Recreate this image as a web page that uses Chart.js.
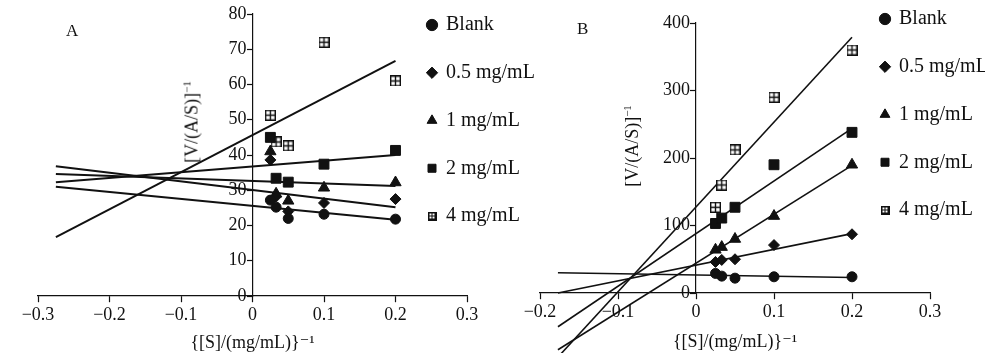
<!DOCTYPE html>
<html>
<head>
<meta charset="utf-8" />
<title>Lineweaver-Burk</title>
<script src="https://cdn.jsdelivr.net/npm/chart.js"></script>
<style>
  body { margin: 0; background: #fff; }
  #wrap {
    position: relative;
    width: 985px;
    height: 353px;
    overflow: hidden;
    font-family: "Liberation Serif", "DejaVu Serif", serif;
    color: #111;
  }
  canvas { position: absolute; top: 0; }
  #ca { left: 0; }
  #cb { left: 480px; }
  .tag { position: absolute; font-size: 17px; line-height: 1; }
  .ytitle {
    position: absolute;
    font-size: 18px;
    line-height: 1;
    white-space: nowrap;
    transform: translate(-50%, -50%) rotate(-90deg);
  }
  .ytitle sup { font-size: 11px; }
</style>
</head>
<body>
<div id="wrap">
  <canvas id="ca" width="560" height="353"></canvas>
  <canvas id="cb" width="505" height="353"></canvas>
  <div class="tag" style="left:66px;top:22px">A</div>
  <div class="tag" style="left:577px;top:20px">B</div>
  <div class="ytitle" style="left:191px;top:122px">[V/(A/S)]<sup>−1</sup></div>
  <div class="ytitle" style="left:631px;top:146px">[V/(A/S)]<sup>−1</sup></div>
</div>

<script>
// substrate 1/[S] values shared by both panels
const xValues = [0.025, 0.033, 0.05, 0.1, 0.2];
const seriesNames = ["Blank", "0.5 mg/mL", "1 mg/mL", "2 mg/mL", "4 mg/mL"];

// panel A, measured points
const aBlank = [27.2, 25.2, 22.0, 23.2, 21.8];
const aHalf = [38.6, 28.2, 24.0, 26.4, 27.5];
const aOne = [41.0, 29.0, 27.0, 30.7, 32.2];
const aTwo = [45.0, 33.4, 32.3, 37.4, 41.3];
const aFour = [51.3, 43.7, 42.6, 72.0, 61.0];

// panel A, fitted lines (values at aFitX ends)
const aFitX = [-0.275, 0.2];
const aFitBlank = [31.0, 21.6];
const aFitHalf = [36.8, 25.2];
const aFitOne = [34.6, 31.2];
const aFitTwo = [32.3, 40.0];
const aFitFour = [16.7, 66.7];

// panel B, measured points
const bBlank = [29, 25, 22, 24, 24];
const bHalf = [46, 49, 50, 71, 87];
const bOne = [64, 68, 80, 114, 190];
const bTwo = [103, 111, 127, 190, 238];
const bFour = [127, 160, 212, 290, 360];

// panel B, fitted lines
const bFitX = [-0.177, 0.2];
const bFitBlank = [30, 23];
const bFitHalf = [0, 88];
const bFitOne = [-84, 189];
const bFitTwo = [-50, 244];
const bFitFour = [-95, 379];

// tick labels
const xTicksA = [-0.3, -0.2, -0.1, 0, 0.1, 0.2, 0.3];
const yTicksA = [0, 10, 20, 30, 40, 50, 60, 70, 80];
const xTicksB = [-0.2, -0.1, 0, 0.1, 0.2, 0.3];
const yTicksB = [0, 100, 200, 300, 400];

Chart.defaults.font.family = "'Liberation Serif', 'DejaVu Serif', serif";
Chart.defaults.color = "#111";

// square with a cross, for the 4 mg/mL series
function gridMark(size, small) {
  const c = document.createElement("canvas");
  c.width = size;
  c.height = size;
  const g = c.getContext("2d");
  if (small) {
    g.fillStyle = "#111";
    g.fillRect(0, 0, size, size);
    g.fillStyle = "#fff";
    g.fillRect(2, 2, 2, 2);
    g.fillRect(size - 4, 2, 2, 2);
    g.fillRect(2, size - 4, 2, 2);
    g.fillRect(size - 4, size - 4, 2, 2);
  } else {
    g.fillStyle = "#fff";
    g.fillRect(0, 0, size, size);
    g.strokeStyle = "#111";
    g.lineWidth = 1.4;
    g.strokeRect(0.7, 0.7, size - 1.4, size - 1.4);
    g.beginPath();
    g.moveTo(size / 2, 0);
    g.lineTo(size / 2, size);
    g.moveTo(0, size / 2);
    g.lineTo(size, size / 2);
    g.stroke();
  }
  return c;
}
const gridBig = gridMark(11, false);
const gridSmall = gridMark(9, true);

const markStyles = ["circle", "rectRot", "triangle", "rect", gridBig];
const markSizes = [5, 5.5, 6.5, 7, 6];

function fmt(v) {
  if (Math.abs(v) < 1e-9) return "0";
  return (v < 0 ? "\u2212" : "") + Math.abs(v).toFixed(1);
}

// moves the legend to a fixed spot inside the plot
const legendSpot = {
  id: "legendSpot",
  afterLayout(chart, args, opts) {
    const lg = chart.legend;
    if (!lg) return;
    const pad = lg.options.labels.padding;
    lg.left = opts.x - pad;
    lg.top = opts.y - pad;
    lg.right = chart.width;
    lg.bottom = chart.height;
    lg.width = lg.right - lg.left;
    lg.height = lg.bottom - lg.top;
  },
};

// y labels of a centred axis sit on the axis line, push them left of the ticks
const yLabelShift = {
  id: "yLabelShift",
  beforeDraw(chart, args, opts) {
    const items = chart.scales.y.getLabelItems(chart.chartArea);
    items.forEach(function (it) {
      if (it._shifted) return;
      it.options.translation[0] -= opts.dx;
      it._shifted = true;
    });
  },
};

function makePanel(canvasId, series, fits, fitX, cfg) {
  const datasets = [];
  series.forEach(function (arr, k) {
    datasets.push({
      label: seriesNames[k],
      data: xValues.map((x, i) => ({ x: x, y: arr[i] })),
      pointStyle: markStyles[k],
      pointRadius: markSizes[k],
      pointBackgroundColor: "#111",
      pointBorderColor: "#111",
      backgroundColor: "#111",
      borderColor: "#111",
      pointBorderWidth: 1,
      clip: false,
    });
  });
  fits.forEach(function (ys, k) {
    datasets.push({
      label: "fit " + seriesNames[k],
      data: [
        { x: fitX[0], y: ys[0] },
        { x: fitX[1], y: ys[1] },
      ],
      showLine: true,
      pointRadius: 0,
      borderColor: "#111",
      borderWidth: cfg.lineWidth,
      clip: false,
    });
  });

  return new Chart(document.getElementById(canvasId), {
    type: "scatter",
    data: { datasets: datasets },
    plugins: [legendSpot, yLabelShift],
    options: {
      responsive: false,
      animation: false,
      events: [],
      layout: { autoPadding: false, padding: cfg.padding },
      scales: {
        x: {
          type: "linear",
          position: { y: 0 },
          min: cfg.xTicks[0],
          max: cfg.xTicks[cfg.xTicks.length - 1],
          afterBuildTicks: (axis) => {
            axis.ticks = cfg.xTicks.map((v) => ({ value: v }));
          },
          ticks: { callback: fmt, font: { size: 18 }, padding: 2, maxRotation: 0, autoSkip: false },
          grid: { drawOnChartArea: false, tickLength: 6, color: "#111", tickWidth: 1.2 },
          border: { color: "#111", width: 1.2 },
          title: {
            display: true,
            text: "{[S]/(mg/mL)}\u207b\u00b9",
            font: { size: 18 },
            padding: { top: cfg.titlePad, bottom: 0 },
          },
        },
        y: {
          type: "linear",
          position: { x: 0 },
          min: cfg.yTicks[0],
          max: cfg.yTicks[cfg.yTicks.length - 1],
          afterBuildTicks: (axis) => {
            axis.ticks = cfg.yTicks.map((v) => ({ value: v }));
          },
          ticks: { font: { size: 18 }, padding: 1 },
          grid: { drawOnChartArea: false, tickLength: 5, color: "#111", tickWidth: 1.2 },
          border: { color: "#111", width: 1.2 },
        },
      },
      plugins: {
        tooltip: { enabled: false },
        legend: {
          position: "chartArea",
          align: "start",
          labels: {
            usePointStyle: true,
            boxWidth: 8,
            boxHeight: 8,
            padding: cfg.legendGap,
            font: { size: 20 },
            color: "#111",
            generateLabels: function (chart) {
              const items = Chart.defaults.plugins.legend.labels.generateLabels(chart);
              items.forEach(function (it) {
                if (it.datasetIndex === 4) it.pointStyle = gridSmall;
              });
              return items;
            },
            filter: (it) => it.datasetIndex < 5,
          },
        },
        legendSpot: { x: cfg.legendX, y: cfg.legendY },
        yLabelShift: { dx: 6 },
      },
    },
  });
}

makePanel(
  "ca",
  [aBlank, aHalf, aOne, aTwo, aFour],
  [aFitBlank, aFitHalf, aFitOne, aFitTwo, aFitFour],
  aFitX,
  {
    padding: { left: 38, right: 93, top: 14, bottom: 57 },
    xTicks: xTicksA,
    yTicks: yTicksA,
    lineWidth: 2,
    titlePad: 5,
    legendX: 428,
    legendY: 15,
    legendGap: 27.75,
  }
);

makePanel(
  "cb",
  [bBlank, bHalf, bOne, bTwo, bFour],
  [bFitBlank, bFitHalf, bFitOne, bFitTwo, bFitFour],
  bFitX,
  {
    padding: { left: 60, right: 55, top: 23, bottom: 60 },
    xTicks: xTicksB,
    yTicks: yTicksB,
    lineWidth: 1.6,
    titlePad: 7,
    legendX: 401,
    legendY: 9,
    legendGap: 27.75,
  }
);
</script>
</body>
</html>
